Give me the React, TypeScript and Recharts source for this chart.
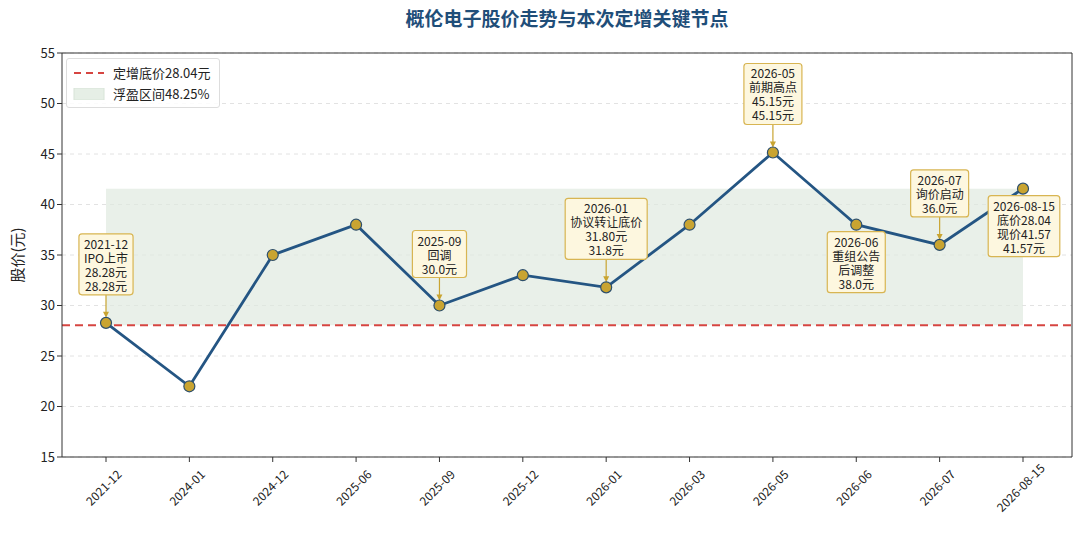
import React from "react";
import {
    LineChart,
    Line,
    XAxis,
    YAxis,
    CartesianGrid,
    ReferenceLine,
    ReferenceArea,
} from "recharts";

const categories = [
    "2021-12",
    "2024-01",
    "2024-12",
    "2025-06",
    "2025-09",
    "2025-12",
    "2026-01",
    "2026-03",
    "2026-05",
    "2026-06",
    "2026-07",
    "2026-08-15",
];
const prices = [28.28, 22, 35, 38, 30, 33, 31.8, 38, 45.15, 38, 36, 41.57];
const notes: (string | null)[] = [
    "2021-12\nIPO上市\n28.28元\n28.28元",
    null,
    null,
    null,
    "2025-09\n回调\n30.0元",
    null,
    "2026-01\n协议转让底价\n31.80元\n31.8元",
    null,
    "2026-05\n前期高点\n45.15元\n45.15元",
    "2026-06\n重组公告\n后调整\n38.0元",
    "2026-07\n询价启动\n36.0元",
    "2026-08-15\n底价28.04\n现价41.57\n41.57元",
];
const floorPrice = 28.04;
const currentPrice = 41.57;
const yTicks = [15, 20, 25, 30, 35, 40, 45, 50, 55];

// boxes below the point (no arrow) vs above with arrow
const belowNotes: { [i: number]: number } = { 9: 0, 11: 1 };

const FONT = "'Noto Sans CJK SC', 'Noto Sans', sans-serif";
const LINE_COLOR = "#245583";
const MARK_COLOR = "#c9a431";

const chartData = categories.map((name, i) => ({
    name,
    price: prices[i],
    note: notes[i],
}));

let ctx: CanvasRenderingContext2D | null = null;
const measure = (s: string) => {
    if (!ctx) ctx = document.createElement("canvas").getContext("2d");
    if (!ctx) return s.length * 8;
    ctx.font = `12px ${FONT}`;
    return ctx.measureText(s).width;
};

const renderDot = (props: any) => {
    const { cx, cy, index } = props;
    const note = notes[index];
    let box = null;
    if (note) {
        const lines = note.split("\n");
        const w = Math.max(...lines.map(measure)) + 10;
        const lh = 14;
        const h = lines.length * lh + 5;
        const below = belowNotes[index] !== undefined;
        const bx = cx + (below ? belowNotes[index] : 0) - w / 2;
        const by = below ? cy + 7 : cy - 28 - h;
        box = (
            <g>
                {!below && (
                    <g>
                        <line
                            x1={cx}
                            y1={by + h}
                            x2={cx}
                            y2={cy - 8}
                            stroke={MARK_COLOR}
                            strokeWidth={1.2}
                        />
                        <polygon
                            points={`${cx - 3},${cy - 11} ${cx + 3},${cy - 11} ${cx},${cy - 5}`}
                            fill={MARK_COLOR}
                        />
                    </g>
                )}
                <rect
                    x={bx}
                    y={by}
                    width={w}
                    height={h}
                    rx={3}
                    fill="#fdf7df"
                    stroke="#d8b552"
                    strokeWidth={1.2}
                />
                {lines.map((t, k) => (
                    <text
                        key={k}
                        x={bx + w / 2}
                        y={by + 2.5 + (k + 0.5) * lh}
                        textAnchor="middle"
                        dominantBaseline="central"
                        fontSize={12}
                        fontFamily={FONT}
                        fill="#222"
                    >
                        {t}
                    </text>
                ))}
            </g>
        );
    }
    return (
        <g key={`dot-${index}`}>
            {box}
            <circle
                cx={cx}
                cy={cy}
                r={5.5}
                fill={MARK_COLOR}
                stroke="#2d4f6c"
                strokeWidth={1.2}
            />
        </g>
    );
};

const XTick = (props: any) => {
    const { x, y, payload } = props;
    return (
        <g transform={`translate(${x - 3},${y + 23})`}>
            <text
                transform="rotate(-45)"
                textAnchor="middle"
                dominantBaseline="central"
                fontSize={12}
                fontFamily={FONT}
                fill="#222"
            >
                {payload.value}
            </text>
        </g>
    );
};

const LegendBox = () => (
    <div
        style={{
            position: "absolute",
            top: 58,
            left: 66,
            border: "1px solid #ddd",
            borderRadius: 3,
            background: "rgba(255,255,255,0.85)",
            padding: "3px 8px 3px 6px",
            fontFamily: FONT,
            fontSize: 13,
            color: "#222",
            lineHeight: "21px",
        }}
    >
        <div style={{ display: "flex", alignItems: "center" }}>
            <svg width={32} height={10} style={{ marginRight: 8 }}>
                <line
                    x1={1}
                    y1={5}
                    x2={31}
                    y2={5}
                    stroke="#d64541"
                    strokeWidth={2}
                    strokeDasharray="7 5"
                />
            </svg>
            定增底价{floorPrice}元
        </div>
        <div style={{ display: "flex", alignItems: "center" }}>
            <svg width={32} height={12} style={{ marginRight: 8 }}>
                <rect x={1} y={0} width={30} height={12} fill="#e6efe6" stroke="#d8e4d8" />
            </svg>
            浮盈区间48.25%
        </div>
    </div>
);

export default function App() {
    return (
        <div style={{ position: "relative", width: 1080, height: 535, background: "#fff" }}>
            <style>{"body{margin:0}"}</style>
            <div
                style={{
                    position: "absolute",
                    top: 4,
                    left: 62,
                    width: 1010,
                    textAlign: "center",
                    fontFamily: FONT,
                    fontWeight: 700,
                    fontSize: 19,
                    color: "#1f4e79",
                }}
            >
                概伦电子股价走势与本次定增关键节点
            </div>
            <LineChart
                width={1080}
                height={535}
                data={chartData}
                margin={{ top: 52, right: 7, bottom: 0, left: 0 }}
            >
                <CartesianGrid
                    vertical={false}
                    stroke="#e2e2e2"
                    strokeDasharray="4 4"
                />
                <ReferenceArea
                    x1={categories[0]}
                    x2={categories[categories.length - 1]}
                    y1={floorPrice}
                    y2={currentPrice}
                    fill="#dfeadf"
                    fillOpacity={0.7}
                    stroke="none"
                />
                <XAxis
                    dataKey="name"
                    interval={0}
                    height={78}
                    padding={{ left: 44, right: 49 }}
                    tick={<XTick />}
                    tickSize={5}
                    stroke="#333"
                />
                <XAxis
                    xAxisId="top"
                    orientation="top"
                    dataKey="name"
                    height={1}
                    tick={false}
                    tickLine={false}
                    stroke="#333"
                />
                <YAxis
                    domain={[15, 55]}
                    ticks={yTicks}
                    width={62}
                    tickSize={5}
                    stroke="#333"
                    tick={{ fontSize: 13, fill: "#222", fontFamily: FONT }}
                    label={{
                        value: "股价(元)",
                        angle: -90,
                        position: "insideLeft",
                        offset: 18,
                        style: {
                            textAnchor: "middle",
                            fontSize: 15,
                            fill: "#222",
                            fontFamily: FONT,
                        },
                    }}
                />
                <YAxis
                    yAxisId="right"
                    orientation="right"
                    width={1}
                    tick={false}
                    tickLine={false}
                    stroke="#333"
                />
                <ReferenceLine
                    y={floorPrice}
                    stroke="#d64541"
                    strokeWidth={2}
                    strokeDasharray="8 5"
                />
                <Line
                    type="linear"
                    dataKey="price"
                    stroke={LINE_COLOR}
                    strokeWidth={2.8}
                    dot={renderDot}
                    activeDot={false}
                    isAnimationActive={false}
                />
            </LineChart>
            <LegendBox />
        </div>
    );
}
